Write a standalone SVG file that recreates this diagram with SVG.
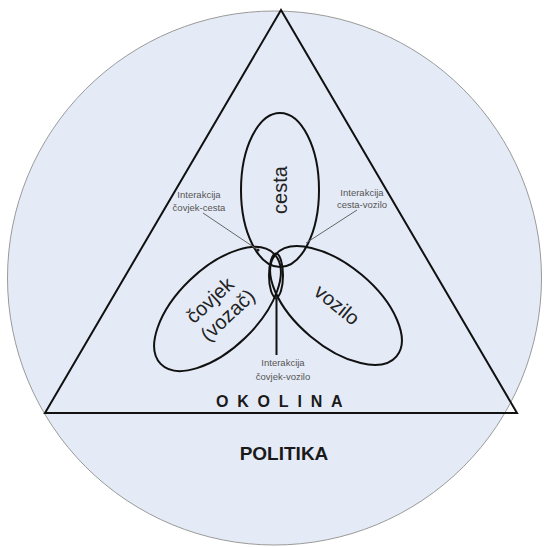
<svg xmlns="http://www.w3.org/2000/svg" width="548" height="547" viewBox="0 0 548 547">
  <style>
    .bg { fill: #e5ebf6; stroke: #9a9a9a; stroke-width: 1; }
    .shape { fill: none; stroke: #111; stroke-width: 2; }
    .big { font-family: "Liberation Sans", Arial, sans-serif; font-size: 20px; fill: #222; text-anchor: middle; }
    .small { font-family: "Liberation Sans", Arial, sans-serif; font-size: 9.5px; fill: #555; text-anchor: middle; }
    .title { font-family: "Liberation Sans", Arial, sans-serif; font-weight: bold; fill: #1a1a1a; }
    .conn { stroke: #666; stroke-width: 1; fill: none; }
    .connb { stroke: #111; stroke-width: 2; fill: none; }
  </style>
  <defs>
    <marker id="dot" viewBox="0 0 4 4" refX="2" refY="2" markerWidth="4" markerHeight="4" markerUnits="userSpaceOnUse">
      <circle cx="2" cy="2" r="1.6" fill="#222"/>
    </marker>
  </defs>

  <g id="politika">
    <circle class="bg" cx="274.5" cy="278" r="267"/>
    <text class="title" x="284" y="460" font-size="19" text-anchor="middle">POLITIKA</text>
  </g>

  <g id="okolina">
    <polygon class="shape" points="281,10 45,413 517,413"/>
    <text class="title" x="216" y="407" font-size="16" letter-spacing="8.8">OKOLINA</text>
  </g>

  <g id="cesta">
    <ellipse class="shape" cx="280" cy="190" rx="39" ry="77"/>
    <text class="big" transform="translate(280,190) rotate(-90)" x="0" y="7">cesta</text>
  </g>

  <g id="covjek">
    <ellipse class="shape" transform="translate(217.5,309) rotate(-44)" cx="0" cy="0" rx="79" ry="40"/>
    <text class="big" font-size="21" transform="translate(220,307) rotate(-43)">
      <tspan x="0" y="-5">čovjek</tspan>
      <tspan x="0" y="18">(vozač)</tspan>
    </text>
  </g>

  <g id="vozilo">
    <ellipse class="shape" transform="translate(336,305.5) rotate(40)" cx="0" cy="0" rx="79" ry="40"/>
    <text class="big" font-size="21" transform="translate(336.5,305.5) rotate(39)" x="0" y="6">vozilo</text>
  </g>

  <g id="presjek">
    <ellipse class="shape" cx="276" cy="275.5" rx="7" ry="22"/>
  </g>

  <g id="connectors">
    <line class="conn" x1="203" y1="213" x2="258" y2="250" marker-end="url(#dot)"/>
    <line class="conn" x1="357" y1="210" x2="306" y2="243"/>
    <line class="connb" x1="276.5" y1="355" x2="276.5" y2="298" marker-end="url(#dot)"/>
  </g>

  <g id="label-covjek-cesta">
    <text class="small" x="199" y="198">Interakcija</text>
    <text class="small" x="199" y="211">čovjek-cesta</text>
  </g>
  <g id="label-cesta-vozilo">
    <text class="small" x="362" y="196">Interakcija</text>
    <text class="small" x="362" y="208">cesta-vozilo</text>
  </g>
  <g id="label-covjek-vozilo">
    <text class="small" x="283" y="366">Interakcija</text>
    <text class="small" x="283" y="380">čovjek-vozilo</text>
  </g>
</svg>
